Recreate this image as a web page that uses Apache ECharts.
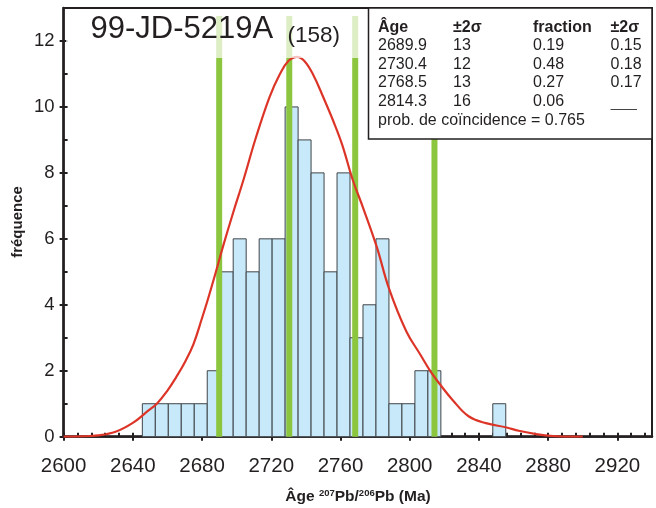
<!DOCTYPE html>
<html>
<head>
<meta charset="utf-8">
<script src="https://cdn.jsdelivr.net/npm/echarts@6/dist/echarts.min.js"></script>
<style>
html,body{margin:0;padding:0;background:#fff;}
#chart{width:656px;height:508px;}
</style>
</head>
<body>
<div id="chart"></div>
<script>
// ---- data ----
var binStart = [2645.5, 2653, 2660.5, 2668, 2675.5, 2683, 2690.5, 2698, 2705.5, 2713, 2720.5, 2728, 2735.5, 2743, 2750.5, 2758, 2765.5, 2773, 2780.5, 2788, 2795.5, 2803, 2810.5, 2848];
var binCount = [1, 1, 1, 1, 1, 2, 5, 6, 5, 6, 6, 10, 9, 8, 5, 8, 3, 4, 6, 1, 1, 2, 2, 1];
var binWidth = 7.5;

var curveAge = [2600, 2610, 2620, 2630, 2640, 2648, 2654, 2660, 2665, 2670, 2675, 2680, 2683, 2688, 2692, 2698, 2704, 2711, 2719, 2725, 2730, 2735, 2739, 2744, 2750, 2756, 2761, 2767, 2773, 2781, 2788, 2798, 2806, 2812, 2817, 2825, 2834, 2844, 2856, 2863, 2873, 2883, 2895, 2900];
var curveFreq = [0, 0.01, 0.04, 0.15, 0.42, 0.75, 1.01, 1.4, 1.8, 2.25, 2.8, 3.6, 4.1, 5.0, 5.75, 6.8, 7.8, 9.05, 10.3, 11.0, 11.4, 11.52, 11.4, 11.0, 10.3, 9.55, 8.85, 7.8, 6.95, 5.75, 4.5, 3.2, 2.5, 1.98, 1.62, 1.1, 0.62, 0.41, 0.28, 0.18, 0.08, 0.02, 0, 0];

var peakAges = [2689.9, 2730.4, 2768.5, 2814.3];
var peakTop = 12.76;

var tableHeader = ['Âge', '±2σ', 'fraction', '±2σ'];
var tableAge = ['2689.9', '2730.4', '2768.5', '2814.3'];
var tableAgeErr = ['13', '12', '13', '16'];
var tableFrac = ['0.19', '0.48', '0.27', '0.06'];
var tableFracErr = ['0.15', '0.18', '0.17', ''];
var probText = 'prob. de coïncidence = 0.765';

var sampleName = '99-JD-5219A';
var sampleN = '(158)';
var xTicks = [2600, 2640, 2680, 2720, 2760, 2800, 2840, 2880, 2920];

// ---- chart ----
var FONT = '"Liberation Sans", Arial, sans-serif';
var INK = '#231f20';
var chart = echarts.init(document.getElementById('chart'), null, {renderer: 'canvas'});

var histData = binStart.map(function (s, i) { return [s, s + binWidth, binCount[i]]; });
var curveData = curveAge.map(function (a, i) { return [a, curveFreq[i]]; });
var peakData = peakAges.map(function (a) { return [a, peakTop]; });

var colX = [378, 453, 533, 610.5];
var rowY = [28, 45.5, 64.3, 83, 102, 121];
var graphics = [];
// translucent band behind title
graphics.push({type: 'rect', shape: {x: 66, y: 16, width: 300, height: 42}, style: {fill: 'rgba(255,255,255,0.7)'}, z: 100});
graphics.push({type: 'text', x: 90.5, y: 29, style: {text: sampleName, font: '31px ' + FONT, fill: INK, textVerticalAlign: 'middle', verticalAlign: 'middle'}, z: 101});
graphics.push({type: 'text', x: 287.5, y: 36, style: {text: sampleN, font: '22.5px ' + FONT, fill: INK, textVerticalAlign: 'middle', verticalAlign: 'middle'}, z: 101});
// table box
graphics.push({type: 'rect', shape: {x: 368.5, y: 8, width: 283.5, height: 131}, style: {fill: '#fff', stroke: INK, lineWidth: 1.5}, z: 100});
tableHeader.forEach(function (t, j) {
  graphics.push({type: 'text', x: colX[j], y: rowY[0], style: {text: t, font: 'bold 16px ' + FONT, fill: INK, verticalAlign: 'middle', textVerticalAlign: 'middle'}, z: 101});
});
var cols = [tableAge, tableAgeErr, tableFrac, tableFracErr];
for (var r = 0; r < tableAge.length; r++) {
  for (var c = 0; c < 4; c++) {
    if (cols[c][r]) {
      graphics.push({type: 'text', x: colX[c], y: rowY[r + 1], style: {text: cols[c][r], font: '16px ' + FONT, fill: INK, verticalAlign: 'middle', textVerticalAlign: 'middle'}, z: 101});
    }
  }
}
graphics.push({type: 'line', shape: {x1: 610.5, y1: 109.5, x2: 637, y2: 109.5}, style: {stroke: '#444', lineWidth: 1}, z: 101});
graphics.push({type: 'text', x: colX[0], y: rowY[5], style: {text: probText, font: '16px ' + FONT, fill: INK, verticalAlign: 'middle', textVerticalAlign: 'middle'}, z: 101});
// axis titles
graphics.push({type: 'text', x: 358, y: 497, style: {
  text: '{b|Âge }{s|207}{b|Pb/}{s|206}{b|Pb (Ma)}',
  rich: {b: {font: 'bold 15.5px ' + FONT, fill: INK, color: INK}, s: {font: 'bold 9.5px ' + FONT, fill: INK, color: INK, padding: [0, 0, 7, 0]}},
  align: 'center', textAlign: 'center', verticalAlign: 'middle', textVerticalAlign: 'middle'}, z: 101});
graphics.push({type: 'text', x: 18, y: 222, rotation: Math.PI / 2, style: {text: 'fréquence', font: 'bold 15px ' + FONT, fill: INK, align: 'center', textAlign: 'center', verticalAlign: 'middle', textVerticalAlign: 'middle'}, z: 101});

var option = {
  backgroundColor: '#fff',
  animation: false,
  grid: {left: 63.6, right: 4, top: 8, bottom: 71.3, show: true, borderColor: INK, borderWidth: 2, backgroundColor: 'transparent'},
  xAxis: [
    {type: 'value', min: 2600, max: 2940, interval: 40,
     axisLine: {show: true, onZero: false, lineStyle: {color: INK, width: 2.5}},
     axisTick: {show: true, inside: false, length: 4, lineStyle: {color: INK, width: 2}},
     axisLabel: {show: true, fontSize: 20.5, fontFamily: FONT, color: INK, margin: 19, showMaxLabel: false,
                 formatter: function (v) { return xTicks.indexOf(v) >= 0 ? String(v) : ''; }},
     splitLine: {show: false}},
    {type: 'value', min: 2600, max: 2940, interval: 8, position: 'bottom',
     axisLine: {show: false, onZero: false},
     axisTick: {show: true, inside: true, length: 4, lineStyle: {color: INK, width: 2}},
     axisLabel: {show: false}, splitLine: {show: false}}
  ],
  yAxis: [
    {type: 'value', min: 0, max: 13, interval: 2,
     axisLine: {show: true, onZero: false, lineStyle: {color: INK, width: 2.5}},
     axisTick: {show: true, inside: false, length: 4, lineStyle: {color: INK, width: 2}},
     axisLabel: {show: true, fontSize: 18.5, fontFamily: FONT, color: INK, margin: 9, showMaxLabel: false},
     splitLine: {show: false}},
    {type: 'value', min: 0, max: 13, interval: 1, position: 'left',
     axisLine: {show: false, onZero: false},
     axisTick: {show: true, inside: true, length: 4, lineStyle: {color: INK, width: 2}},
     axisLabel: {show: false}, splitLine: {show: false}}
  ],
  series: [
    {type: 'custom', xAxisIndex: 0, yAxisIndex: 0, data: histData, z: 2,
     encode: {x: [0, 1], y: 2},
     renderItem: function (params, api) {
       var p0 = api.coord([api.value(0), 0]);
       var p1 = api.coord([api.value(1), api.value(2)]);
       return {type: 'rect', shape: {x: p0[0], y: p1[1], width: p1[0] - p0[0], height: p0[1] - p1[1]},
               style: {fill: '#c8e9f9', stroke: '#3f4448', lineWidth: 1}};
     }},
    {type: 'custom', xAxisIndex: 0, yAxisIndex: 0, data: peakData, z: 3,
     encode: {x: 0, y: 1},
     renderItem: function (params, api) {
       var p0 = api.coord([api.value(0), 0]);
       var p1 = api.coord([api.value(0), api.value(1)]);
       return {type: 'line', shape: {x1: p0[0], y1: p0[1], x2: p1[0], y2: p1[1]},
               style: {stroke: '#8cc63f', lineWidth: 6}};
     }},
    {type: 'line', xAxisIndex: 0, yAxisIndex: 0, data: curveData, smooth: 0.4, showSymbol: false, z: 4,
     lineStyle: {color: '#dc3528', width: 2.2}}
  ],
  graphic: graphics
};
chart.setOption(option);
</script>
</body>
</html>
